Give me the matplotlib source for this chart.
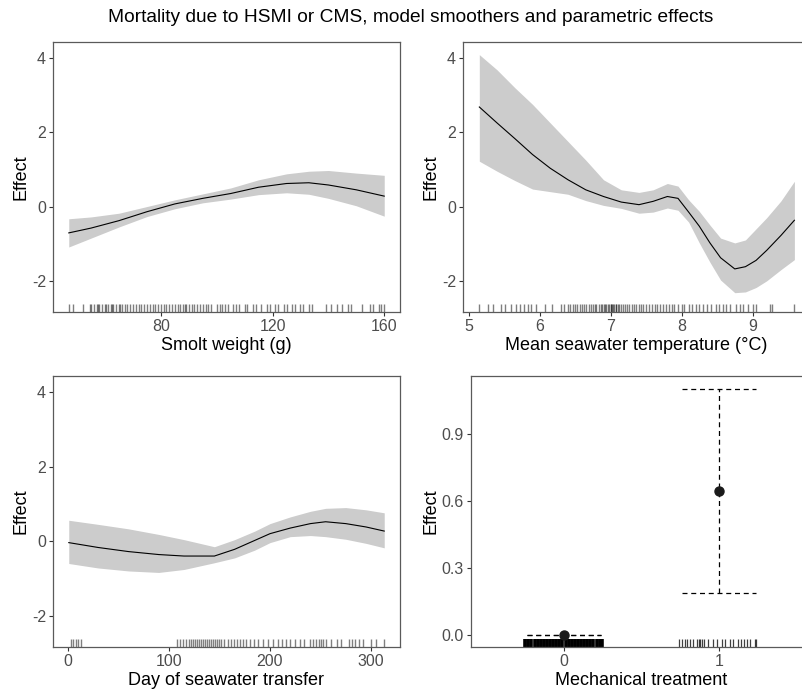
"""GAM smoother panels: mortality due to HSMI or CMS."""

import matplotlib

matplotlib.use("Agg")

import matplotlib.pyplot as plt
import numpy as np

plt.rcParams["font.family"] = ["Liberation Sans", "DejaVu Sans"]
plt.rcParams["axes.unicode_minus"] = False

TITLE = "Mortality due to HSMI or CMS, model smoothers and parametric effects"

# smolt weight smoother
weight_x = [47, 55, 65, 75, 85, 95, 105, 115, 125, 133, 140, 150, 160]
weight_fit = [-0.71, -0.58, -0.38, -0.14, 0.07, 0.22, 0.35, 0.52, 0.62, 0.64, 0.58, 0.45, 0.28]
weight_lo = [-1.09, -0.85, -0.55, -0.27, -0.06, 0.10, 0.20, 0.32, 0.37, 0.33, 0.22, 0.02, -0.26]
weight_hi = [-0.33, -0.28, -0.18, 0.00, 0.18, 0.34, 0.50, 0.72, 0.88, 0.95, 0.97, 0.90, 0.84]
weight_rug = [47, 48.5, 52, 54.5, 55, 56, 57, 57.5, 58, 59, 60, 60.5, 61, 62, 62.5, 63,
              64, 65, 65.5, 66, 67, 68, 69, 70, 71, 72, 73, 74, 75, 76, 77, 78, 79, 80,
              81, 82, 83, 84, 85, 86, 87, 88, 88.5, 89, 90, 91, 92, 93, 94, 95, 96, 97,
              98, 100, 101, 102, 103, 104, 106, 107, 108, 110, 111, 113, 114, 116, 118,
              119, 121, 122, 124, 125, 127, 128, 130, 131, 133, 134, 139, 141, 143, 145,
              147, 148, 152, 155, 156, 158, 159, 160]

# seawater temperature smoother
temp_x = [5.15, 5.4, 5.65, 5.9, 6.15, 6.4, 6.65, 6.9, 7.15, 7.4, 7.6, 7.8, 7.95,
          8.1, 8.25, 8.4, 8.55, 8.75, 8.9, 9.05, 9.2, 9.4, 9.59]
temp_fit = [2.68, 2.25, 1.83, 1.40, 1.03, 0.72, 0.45, 0.27, 0.12, 0.05, 0.14, 0.27, 0.22,
            -0.15, -0.53, -0.98, -1.38, -1.68, -1.62, -1.45, -1.18, -0.78, -0.37]
temp_lo = [1.22, 0.95, 0.70, 0.47, 0.40, 0.33, 0.16, 0.03, -0.05, -0.18, -0.15, -0.04, -0.10,
           -0.42, -0.98, -1.50, -1.98, -2.32, -2.30, -2.18, -2.00, -1.70, -1.43]
temp_hi = [4.09, 3.68, 3.20, 2.75, 2.25, 1.75, 1.25, 0.72, 0.45, 0.38, 0.45, 0.62, 0.55,
           0.18, -0.13, -0.50, -0.85, -0.98, -0.90, -0.60, -0.30, 0.15, 0.68]
temp_rug = [5.15, 5.27, 5.34, 5.46, 5.51, 5.6, 5.66, 5.72, 5.78, 5.83, 5.88, 5.95, 6.07,
            6.18, 6.3, 6.35, 6.4, 6.43, 6.47, 6.5, 6.53, 6.57, 6.6, 6.63, 6.66, 6.7, 6.72,
            6.75, 6.78, 6.8, 6.83, 6.86, 6.88, 6.9, 6.92, 6.94, 6.96, 6.98, 7.0, 7.01, 7.02,
            7.04, 7.05, 7.07, 7.08, 7.1, 7.12, 7.14, 7.17, 7.2, 7.23, 7.26, 7.3, 7.33, 7.36,
            7.4, 7.43, 7.46, 7.5, 7.54, 7.58, 7.62, 7.66, 7.7, 7.74, 7.78, 7.82, 7.86, 7.9,
            7.95, 8.0, 8.04, 8.1, 8.15, 8.2, 8.25, 8.3, 8.36, 8.42, 8.48, 8.53, 8.58, 8.63,
            8.68, 8.77, 8.82, 8.87, 8.93, 9.0, 9.05, 9.24, 9.28, 9.59]

# day of seawater transfer smoother
day_x = [1, 30, 60, 90, 115, 145, 165, 185, 200, 220, 240, 255, 275, 295, 313]
day_fit = [-0.04, -0.17, -0.28, -0.36, -0.40, -0.40, -0.22, 0.02, 0.20, 0.35, 0.47, 0.52,
           0.47, 0.38, 0.27]
day_lo = [-0.60, -0.72, -0.80, -0.84, -0.76, -0.58, -0.45, -0.24, -0.04, 0.12, 0.15, 0.12,
          0.05, -0.06, -0.18]
day_hi = [0.56, 0.45, 0.33, 0.18, 0.04, -0.15, 0.04, 0.27, 0.47, 0.65, 0.80, 0.88, 0.90,
          0.84, 0.76]
day_rug = [3, 5, 8, 10, 13, 108, 111, 114, 117, 120, 122, 124, 126, 128, 130, 132, 134, 136,
           138, 140, 142, 144, 146, 148, 150, 152, 155, 158, 161, 164, 167, 170, 173, 176,
           180, 184, 188, 193, 198, 203, 208, 212, 216, 220, 225, 230, 234, 240, 243, 246,
           248, 250, 252, 255, 260, 266, 270, 278, 281, 284, 288, 292, 300, 305, 313]

# mechanical treatment parametric effect
mech_levels = [0, 1]
mech_est = [0.0, 0.645]
mech_lo = [0.0, 0.187]
mech_hi = [0.0, 1.103]
mech_rug_0 = [-0.25, -0.23, -0.21, -0.19, -0.17, -0.15, -0.13, -0.11, -0.09, -0.07, -0.05,
              -0.03, -0.01, 0.01, 0.03, 0.05, 0.07, 0.09, 0.11, 0.13, 0.15, 0.17, 0.19,
              0.21, 0.23, 0.245]
mech_rug_1 = [0.742, 0.76, 0.78, 0.795, 0.81, 0.83, 0.86, 0.87, 0.88, 0.89, 0.905, 0.93,
              0.96, 0.99, 1.02, 1.04, 1.07, 1.09, 1.12, 1.14, 1.16, 1.18, 1.2, 1.23, 1.24]

W, H = 802, 694
SPINE = "#5a5a5a"
TICKLAB = "#4d4d4d"


def _axes(fig, left, right, bottom, top):
    return fig.add_axes([left / W, 1 - bottom / H, (right - left) / W, (bottom - top) / H])


def _style(ax, xlabel):
    for spine in ax.spines.values():
        spine.set_color(SPINE)
        spine.set_linewidth(0.9)
    ax.tick_params(direction="out", length=3, width=0.8, color="#333333",
                   labelcolor=TICKLAB, labelsize=11.5, pad=2)
    ax.set_xlabel(xlabel, fontsize=13, labelpad=2)
    ax.set_ylabel("Effect", fontsize=13, labelpad=2)


def _rug(ax, values, alpha=0.5, lw=1.0):
    ax.vlines(values, 0, 0.03, transform=ax.get_xaxis_transform(),
              color="black", alpha=alpha, linewidth=lw)


def _smooth(ax, x, fit, lo, hi, rug, xlim, xticks, xlabel):
    ax.fill_between(x, lo, hi, color="#cccccc", linewidth=0)
    ax.plot(x, fit, color="black", linewidth=0.8)
    _rug(ax, rug)
    ax.set_xlim(*xlim)
    ax.set_ylim(-2.84, 4.43)
    ax.set_xticks(xticks)
    ax.set_yticks([-2, 0, 2, 4])
    _style(ax, xlabel)


fig = plt.figure(figsize=(W / 100, H / 100), dpi=100)
fig.text(411 / W, 1 - 18 / H, TITLE, ha="center", va="center", fontsize=13.8)

ax1 = _axes(fig, 53, 400, 312, 42)
_smooth(ax1, weight_x, weight_fit, weight_lo, weight_hi, weight_rug,
        (41.35, 165.65), [80, 120, 160], "Smolt weight (g)")

ax2 = _axes(fig, 463, 810, 312, 42)
_smooth(ax2, temp_x, temp_fit, temp_lo, temp_hi, temp_rug,
        (4.92, 9.81), [5, 6, 7, 8, 9], "Mean seawater temperature (°C)")

ax3 = _axes(fig, 53, 400, 647, 376)
_smooth(ax3, day_x, day_fit, day_lo, day_hi, day_rug,
        (-14.6, 328.6), [0, 100, 200, 300], "Day of seawater transfer")

ax4 = _axes(fig, 471, 812, 647, 376)
est = np.asarray(mech_est)
for lev, lo, hi in zip(mech_levels, mech_lo, mech_hi):
    ax4.plot([lev - 0.24, lev + 0.24], [lo, lo], color="black", lw=0.9, ls=(0, (4, 3)))
    ax4.plot([lev - 0.24, lev + 0.24], [hi, hi], color="black", lw=0.9, ls=(0, (4, 3)))
    ax4.plot([lev, lev], [lo, hi], color="black", lw=0.9, ls=(0, (4, 3)))
ax4.plot(mech_levels, est, "o", color="#1a1a1a", markersize=6.5, zorder=3)
_rug(ax4, mech_rug_0, alpha=1.0, lw=2.6)
_rug(ax4, mech_rug_1, alpha=0.75, lw=0.9)
ax4.set_xlim(-0.6, 1.6)
ax4.set_ylim(-0.054, 1.161)
ax4.set_xticks(mech_levels)
ax4.set_xticklabels(["0", "1"])
ax4.set_yticks([0.0, 0.3, 0.6, 0.9])
ax4.set_yticklabels(["0.0", "0.3", "0.6", "0.9"])
_style(ax4, "Mechanical treatment")

fig.savefig("out.png", dpi=100)
